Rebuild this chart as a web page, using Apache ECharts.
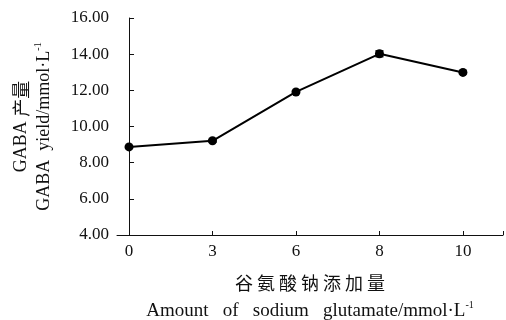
<!DOCTYPE html>
<html>
<head>
<meta charset="utf-8">
<script src="https://cdn.jsdelivr.net/npm/echarts@6/dist/echarts.min.js"></script>
<style>
  html, body { margin: 0; padding: 0; background: #fff; }
  #chart { width: 506px; height: 320px; }
</style>
</head>
<body>
<div id="chart"></div>
<script>
// 谷氨酸钠添加量 (mmol/L)
var categories = ['0', '3', '6', '8', '10'];
// GABA 产量 (mmol/L)
var yieldValues = [8.87, 9.21, 11.91, 14.02, 12.99];
var yieldErrors = [0.06, 0.07, 0.06, 0.16, 0.06];
var yTicks = [4, 6, 8, 10, 12, 14, 16];

var chart = echarts.init(document.getElementById('chart'));

var serif = '"Liberation Serif", "DejaVu Serif", "Noto Sans CJK SC", serif';
var cjk = '"Noto Sans CJK SC", serif';

var points = yieldValues.map(function (v, i) { return [i, v]; });
var errData = yieldValues.map(function (v, i) {
  return [i, v - yieldErrors[i], v + yieldErrors[i]];
});

var option = {
  backgroundColor: '#fff',
  animation: false,
  grid: { left: 117, right: 3, top: 18, bottom: 85, containLabel: false, outerBoundsMode: 'none' },
  xAxis: {
    type: 'value',
    min: -0.144,
    max: 4.48,
    splitLine: { show: false },
    axisLine: { show: true, lineStyle: { color: '#111', width: 1 } },
    axisTick: {
      show: true, inside: true, length: 4,
      lineStyle: { color: '#111' },
      customValues: [0, 1, 2, 3, 4, 4.48]
    },
    axisLabel: {
      customValues: [0, 1, 2, 3, 4],
      formatter: function (v) { return categories[Math.round(v)]; },
      color: '#111', fontFamily: serif, fontSize: 17, margin: 8
    },
    name: '{cn|谷 氨 酸 钠 添 加 量}\n{en|Amount   of   sodium   glutamate/mmol·L}{sup|-1}',
    nameLocation: 'middle',
    nameGap: 34,
    nameTextStyle: {
      rich: {
        cn: { fontFamily: cjk, fontSize: 18, color: '#111', lineHeight: 28 },
        en: { fontFamily: serif, fontSize: 19, color: '#111', lineHeight: 28 },
        sup: { fontFamily: serif, fontSize: 10, color: '#111', lineHeight: 28, padding: [0, 0, 12, 0] }
      }
    }
  },
  yAxis: {
    type: 'value',
    min: yTicks[0],
    max: yTicks[yTicks.length - 1],
    interval: 2,
    splitLine: { show: false },
    axisLine: { show: true, lineStyle: { color: '#111', width: 1 } },
    axisTick: { show: true, inside: true, length: 5, lineStyle: { color: '#111' } },
    axisLabel: {
      formatter: function (v) { return v.toFixed(2); },
      color: '#111', fontFamily: serif, fontSize: 17, margin: 8
    },
    name: '{en|GABA }{cn|产量}\n{en|GABA  yield/mmol·L}{sup|-1}',
    nameLocation: 'middle',
    nameRotate: 90,
    nameGap: 61,
    nameTextStyle: {
      rich: {
        cn: { fontFamily: cjk, fontSize: 18, color: '#111', lineHeight: 23 },
        en: { fontFamily: serif, fontSize: 18, color: '#111', lineHeight: 23 },
        sup: { fontFamily: serif, fontSize: 10, color: '#111', lineHeight: 23, padding: [0, 0, 12, 0] }
      }
    }
  },
  series: [
    {
      type: 'line',
      data: points,
      symbol: 'circle',
      symbolSize: 9,
      itemStyle: { color: '#000' },
      lineStyle: { color: '#000', width: 2 },
      z: 3
    },
    {
      type: 'custom',
      data: errData,
      z: 4,
      renderItem: function (params, api) {
        var lo = api.coord([api.value(0), api.value(1)]);
        var hi = api.coord([api.value(0), api.value(2)]);
        var w = 4;
        var st = { stroke: '#000', lineWidth: 1.5 };
        return {
          type: 'group',
          children: [
            { type: 'line', shape: { x1: lo[0], y1: lo[1], x2: hi[0], y2: hi[1] }, style: st },
            { type: 'line', shape: { x1: lo[0] - w, y1: lo[1], x2: lo[0] + w, y2: lo[1] }, style: st },
            { type: 'line', shape: { x1: hi[0] - w, y1: hi[1], x2: hi[0] + w, y2: hi[1] }, style: st }
          ]
        };
      }
    }
  ]
};

chart.setOption(option);
</script>
</body>
</html>
